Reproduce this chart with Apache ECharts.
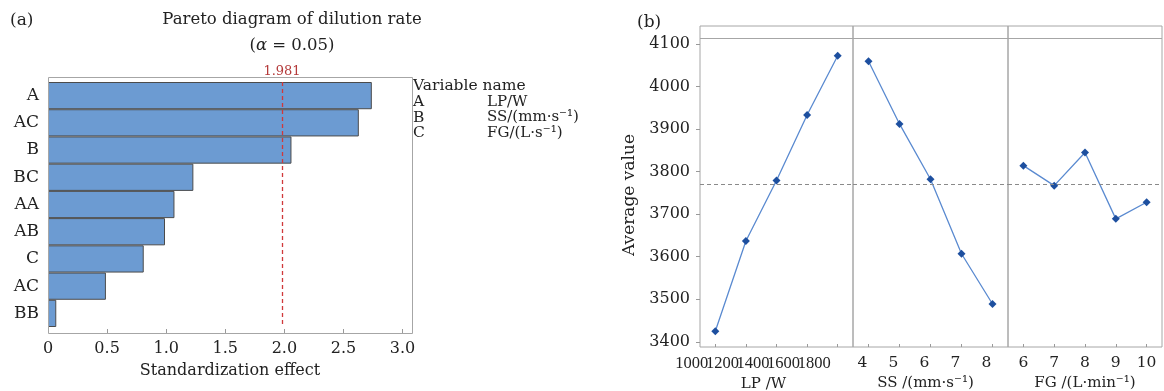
<!DOCTYPE html>
<html>
<head>
<meta charset="utf-8">
<script src="https://cdn.jsdelivr.net/npm/echarts@6/dist/echarts.min.js"></script>
<style>
html,body{margin:0;padding:0;background:#fff;}
#chart{width:1164px;height:391px;}
</style>
</head>
<body>
<div id="chart"></div>
<script>
// ---------- data ----------
const effectTerms = ['A', 'AC', 'B', 'BC', 'AA', 'AB', 'C', 'AC', 'BB'];
const effectValues = [2.74, 2.63, 2.06, 1.23, 1.07, 0.99, 0.81, 0.49, 0.07];
const criticalValue = 1.981;

const legendVars = ['A', 'B', 'C'];
const legendNames = ['LP/W', 'SS/(mm·s⁻¹)', 'FG/(L·s⁻¹)'];

const lpLevels = ['1000', '1200', '1400', '1600', '1800'];
const lpMeans = [3425, 3637, 3779, 3933, 4072];
const ssLevels = ['4', '5', '6', '7', '8'];
const ssMeans = [4059, 3912, 3782, 3607, 3489];
const fgLevels = ['6', '7', '8', '9', '10'];
const fgMeans = [3814, 3767, 3845, 3689, 3728];
const grandMean = 3770;

// axis ranges
const effectMin = 0, effectMax = 3.08;
const avgMin = 3388, avgMax = 4142, avgHeaderLine = 4114;

// ---------- chart ----------
const SERIF = 'DejaVu Serif';
const NARROW = 'Liberation Serif';
const TXT = '#222';
const FRAME = '#a6a6a6';

const chart = echarts.init(document.getElementById('chart'), null, {renderer: 'canvas'});

const legendGraphics = [];
legendGraphics.push({type: 'text', x: 413, y: 86, style: {text: 'Variable name', fontFamily: SERIF, fontSize: 15.5, fill: TXT, verticalAlign: 'middle'}});
legendVars.forEach((v, i) => {
  legendGraphics.push({type: 'text', x: 413, y: 102 + i * 15.5, style: {text: v, fontFamily: SERIF, fontSize: 15.5, fill: TXT, verticalAlign: 'middle'}});
  legendGraphics.push({type: 'text', x: 487, y: 102 + i * 15.5, style: {text: legendNames[i], fontFamily: SERIF, fontSize: 15, fill: TXT, verticalAlign: 'middle'}});
});

function bAxisX(grid, levels, name, labelPad, namePad, labelFont, labelSize, align) {
  return {
    gridIndex: grid, type: 'category', data: levels, boundaryGap: true,
    axisLine: {show: false},
    axisTick: {show: true, inside: true, length: 3, alignWithLabel: true, lineStyle: {color: '#999'}},
    axisLabel: {interval: 0, hideOverlap: false, fontFamily: labelFont, fontSize: labelSize, color: TXT, margin: 8, align: align, padding: labelPad},
    splitLine: {show: false},
    name: name, nameLocation: 'middle', nameGap: 26,
    nameTextStyle: {fontFamily: SERIF, fontSize: 15, color: TXT, padding: namePad}
  };
}
function bAxisY(grid, showLabels) {
  return {
    gridIndex: grid, type: 'value', min: avgMin, max: avgMax, minInterval: 100, maxInterval: 100,
    axisLine: {show: false},
    axisTick: {show: showLabels, inside: false, length: 4, lineStyle: {color: '#999'}},
    axisLabel: {show: showLabels, showMinLabel: false, showMaxLabel: false, fontFamily: SERIF, fontSize: 16, color: TXT, margin: 10,
      formatter: v => String(v)},
    splitLine: {show: false}
  };
}
function refLines() {
  return {
    symbol: 'none', silent: true, label: {show: false},
    data: [
      {yAxis: grandMean, lineStyle: {type: [4, 3], color: '#8a8a8a', width: 1}},
      {yAxis: avgHeaderLine, lineStyle: {type: 'solid', color: FRAME, width: 1}}
    ]
  };
}
function lineSeries(idx, values) {
  return {
    type: 'line', xAxisIndex: idx, yAxisIndex: idx, data: values,
    symbol: 'diamond', symbolSize: 8,
    itemStyle: {color: '#1d4f9f'},
    lineStyle: {color: '#5a8ad0', width: 1.3},
    markLine: refLines()
  };
}

const option = {
  animation: false,
  backgroundColor: '#fff',
  textStyle: {fontFamily: SERIF},
  grid: [
    {left: 48, top: 82, width: 364, height: 245, outerBoundsMode: 'none', containLabel: false},
    {left: 700, top: 26, width: 153, height: 321, show: true, borderColor: FRAME, borderWidth: 1, outerBoundsMode: 'none', containLabel: false},
    {left: 853, top: 26, width: 155, height: 321, show: true, borderColor: FRAME, borderWidth: 1, outerBoundsMode: 'none', containLabel: false},
    {left: 1008, top: 26, width: 154, height: 321, show: true, borderColor: FRAME, borderWidth: 1, outerBoundsMode: 'none', containLabel: false}
  ],
  xAxis: [
    {
      gridIndex: 0, type: 'value', min: effectMin, max: effectMax, interval: 0.5, offset: 6,
      axisLine: {show: false},
      axisTick: {show: true, inside: true, length: 4, lineStyle: {color: '#999'}},
      axisLabel: {showMaxLabel: false, fontFamily: SERIF, fontSize: 16, color: TXT, margin: 8,
        formatter: v => (v === 0 ? '0' : v.toFixed(1))},
      splitLine: {show: false},
      name: 'Standardization effect', nameLocation: 'middle', nameGap: 30,
      nameTextStyle: {fontFamily: SERIF, fontSize: 16, color: TXT}
    },
    bAxisX(1, lpLevels, 'LP /W', [0, 7, 0, 0], [0, 26, 0, 0], NARROW, 16.5, 'right'),
    bAxisX(2, ssLevels, 'SS /(mm·s⁻¹)', [0, 12, 0, 0], [0, 10, 0, 0], SERIF, 15.5, 'center'),
    bAxisX(3, fgLevels, 'FG /(L·min⁻¹)', 0, 0, SERIF, 15.5, 'center')
  ],
  yAxis: [
    {
      gridIndex: 0, type: 'category', data: effectTerms, inverse: true,
      axisLine: {show: false}, axisTick: {show: false},
      axisLabel: {interval: 0, fontFamily: SERIF, fontSize: 17, color: TXT, margin: 9}
    },
    bAxisY(1, true),
    bAxisY(2, false),
    bAxisY(3, false)
  ],
  series: [
    {
      type: 'bar', xAxisIndex: 0, yAxisIndex: 0, data: effectValues,
      barCategoryGap: '0%',
      itemStyle: {color: '#6c9bd2', borderColor: '#4b4b4b', borderWidth: 1},
      markLine: {
        symbol: 'none', silent: true,
        lineStyle: {color: '#d0393b', type: [4, 3], width: 1.3},
        label: {show: true, position: 'start', formatter: String(criticalValue), color: '#b43a3a',
          fontFamily: SERIF, fontSize: 13, distance: 4},
        data: [{xAxis: criticalValue}]
      }
    },
    lineSeries(1, lpMeans),
    lineSeries(2, ssMeans),
    lineSeries(3, fgMeans)
  ],
  graphic: [
    {type: 'rect', shape: {x: 48.5, y: 77.5, width: 364, height: 256}, style: {fill: 'none', stroke: FRAME, lineWidth: 1}, z: 10, silent: true},
    {type: 'text', left: 10, top: 12, style: {text: '(a)', fontFamily: SERIF, fontSize: 17, fill: TXT}},
    {type: 'text', left: 637, top: 14, style: {text: '(b)', fontFamily: SERIF, fontSize: 17, fill: TXT}},
    {type: 'text', x: 292, y: 20, style: {text: 'Pareto diagram of dilution rate', fontFamily: SERIF, fontSize: 16.5, fill: TXT, align: 'center', verticalAlign: 'middle'}},
    {type: 'text', x: 292, y: 46, style: {
      text: '({i|α} = 0.05)', fontFamily: SERIF, fontSize: 16.5, fill: TXT, align: 'center', verticalAlign: 'middle',
      rich: {i: {fontFamily: SERIF, fontStyle: 'italic', fontSize: 16.5, fill: TXT}}
    }},
    {type: 'text', x: 630, y: 195, rotation: Math.PI / 2, style: {text: 'Average value', fontFamily: SERIF, fontSize: 17, fill: TXT, align: 'center', verticalAlign: 'middle'}}
  ].concat(legendGraphics)
};

chart.setOption(option);
</script>
</body>
</html>
